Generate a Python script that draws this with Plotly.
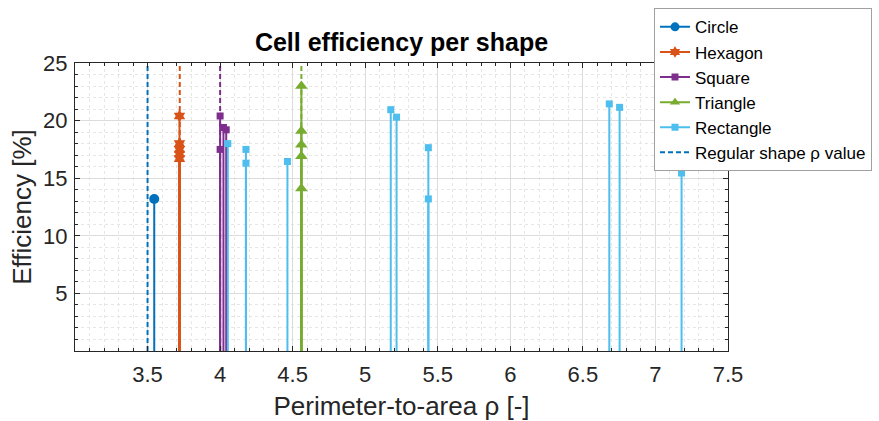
import plotly.graph_objects as go

# ---- data ----
circle_x = [3.546]
circle_y = [13.2]
hexagon_x = [3.72, 3.72, 3.72, 3.72, 3.72]
hexagon_y = [20.4, 18.0, 17.5, 17.1, 16.7]
square_x = [4.0, 4.0, 4.023, 4.042]
square_y = [20.4, 17.5, 19.4, 19.2]
triangle_x = [4.56, 4.56, 4.56, 4.56, 4.56]
triangle_y = [23.0, 19.1, 17.9, 16.9, 14.1]
rect_x = [4.053, 4.178, 4.178, 4.464, 5.176, 5.216, 5.435, 5.435, 6.682, 6.753, 7.18]
rect_y = [18.0, 17.5, 16.3, 16.45, 20.95, 20.3, 17.65, 13.2, 21.45, 21.15, 15.45]
regular_x = [3.5, 3.722, 4.0, 4.56]
x_ticks = [3.5, 4, 4.5, 5, 5.5, 6, 6.5, 7, 7.5]
x_ticklabels = ["3.5", "4", "4.5", "5", "5.5", "6", "6.5", "7", "7.5"]
y_ticks = [5, 10, 15, 20, 25]

C_CIRCLE = "#0072BD"
C_HEX = "#D95319"
C_SQ = "#7E2F8E"
C_TRI = "#77AC30"
C_RECT = "#4DBEEE"
regular_colors = [C_CIRCLE, C_HEX, C_SQ, C_TRI]

series = [
    ("Circle", circle_x, circle_y, C_CIRCLE, "circle", 10),
    ("Hexagon", hexagon_x, hexagon_y, C_HEX, "hexagram", 10),
    ("Square", square_x, square_y, C_SQ, "square", 7),
    ("Triangle", triangle_x, triangle_y, C_TRI, "triangle-up", 11),
    ("Rectangle", rect_x, rect_y, C_RECT, "square", 7),
]

fig = go.Figure()

YMAX = 25

for name, xs, ys, col, sym, ms in series:
    lx, ly = [], []
    for x, y in zip(xs, ys):
        lx += [x, x, None]
        ly += [0, y, None]
    fig.add_trace(go.Scatter(x=lx, y=ly, mode="lines", line=dict(color=col, width=2),
                             showlegend=False, hoverinfo="skip"))

# regular-shape dashed lines
for x, col in zip(regular_x, regular_colors):
    fig.add_trace(go.Scatter(x=[x, x], y=[0, YMAX], mode="lines",
                             line=dict(color=col, width=2, dash="5px,3px"),
                             showlegend=False, hoverinfo="skip"))

for name, xs, ys, col, sym, ms in series:
    fig.add_trace(go.Scatter(x=xs, y=ys, mode="markers",
                             marker=dict(color=col, symbol=sym, size=ms, line=dict(width=0)),
                             showlegend=False))

# legend entries
for name, xs, ys, col, sym, ms in series:
    fig.add_trace(go.Scatter(x=[None], y=[None], mode="lines+markers", name=name,
                             line=dict(color=col, width=2),
                             marker=dict(color=col, symbol=sym, size=min(ms, 9), line=dict(width=0))))
fig.add_trace(go.Scatter(x=[None], y=[None], mode="lines", name="Regular shape ρ value",
                         line=dict(color=C_CIRCLE, width=2, dash="5px,3px")))

FONT = "Liberation Sans, Arial, Helvetica, sans-serif"
AX = "#262626"

fig.update_layout(
    width=879, height=421,
    margin=dict(l=75, r=151, t=63, b=70, autoexpand=False),
    paper_bgcolor="white", plot_bgcolor="white",
    font=dict(family=FONT, color=AX),
    title=dict(text="<b>Cell efficiency per shape</b>", x=(75 + 728) / 2 / 879, xanchor="center",
               y=1 - 42 / 421, yanchor="middle", font=dict(size=25, color="black", family=FONT)),
    legend=dict(x=0.8867, y=1.19, xanchor="left", yanchor="top",
                bgcolor="white", bordercolor="#a0a0a0", borderwidth=1,
                font=dict(size=17, color="black", family=FONT),
                tracegroupgap=0),
    showlegend=True,
)

fig.update_xaxes(
    range=[3, 7.5], tickvals=x_ticks, ticktext=x_ticklabels,
    showline=True, linecolor=AX, linewidth=1, mirror="allticks",
    ticks="inside", ticklen=5, tickcolor=AX, tickfont=dict(size=22, color=AX),
    showgrid=True, gridcolor="#dcdcdc", gridwidth=1, zeroline=False,
    minor=dict(dtick=0.1, tick0=3, showgrid=True, gridcolor="#e6e6e6", griddash="dot",
               ticks="inside", ticklen=3, tickcolor=AX),
    title=dict(text="Perimeter-to-area ρ [-]", font=dict(size=26, color=AX), standoff=15),
    ticklabelstandoff=4,
)
fig.update_yaxes(
    range=[0, 25], tickvals=y_ticks,
    showline=True, linecolor=AX, linewidth=1, mirror="allticks",
    ticks="inside", ticklen=5, tickcolor=AX, tickfont=dict(size=22, color=AX),
    showgrid=True, gridcolor="#dcdcdc", gridwidth=1, zeroline=False,
    minor=dict(dtick=1, showgrid=True, gridcolor="#e6e6e6", griddash="dot",
               ticks="inside", ticklen=3, tickcolor=AX),
    title=dict(text="Efficiency [%]", font=dict(size=26, color=AX), standoff=4),
    ticklabelstandoff=2,
)

fig.write_html("out.html")
